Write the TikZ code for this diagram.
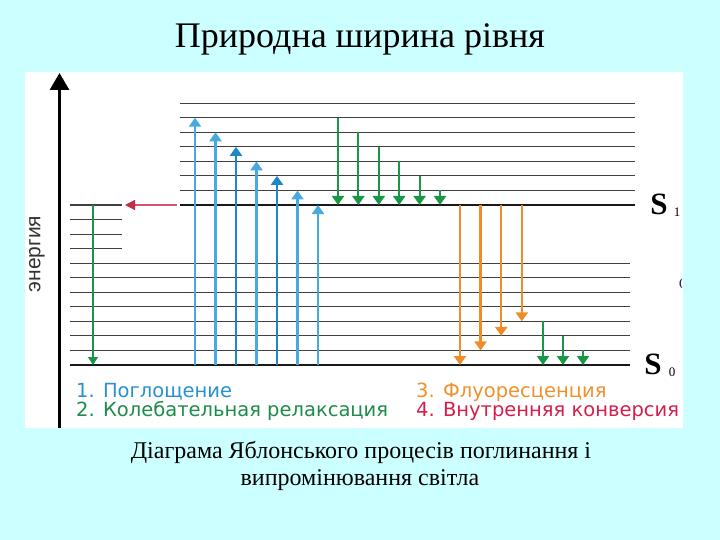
\documentclass[tikz,border=0pt]{standalone}
\usepackage{fontspec}
\setmainfont{Liberation Serif}
\newfontfamily\dejavu{DejaVu Sans}
\newfontfamily\arialf{Liberation Sans}
\usetikzlibrary{arrows.meta}
\definecolor{bgcyan}{RGB}{204,255,255}
\definecolor{blueA}{RGB}{70,170,225}
\definecolor{blueB}{RGB}{30,135,200}
\definecolor{greenA}{RGB}{25,150,70}
\definecolor{orangeA}{RGB}{240,140,40}
\definecolor{redA}{RGB}{195,45,70}
\definecolor{legblue}{RGB}{40,145,210}
\definecolor{leggreen}{RGB}{30,140,75}
\definecolor{legorange}{RGB}{240,145,45}
\definecolor{legred}{RGB}{215,30,75}
\tikzset{
  level/.style={draw=black!75, line width=1.1pt},
  mainlevel/.style={draw=black!90, line width=2.6pt},
  uparr/.style={line width=2.6pt, -{Triangle[width=12pt,length=9pt]}},
  relax/.style={draw=greenA, line width=2pt, -{Triangle[width=12pt,length=9pt]}},
  fluo/.style={draw=orangeA, line width=2.4pt, -{Triangle[width=12pt,length=9pt]}},
  legtext/.style={anchor=west, inner sep=0pt, font=\dejavu\fontsize{19.5}{19.5}\selectfont},
}
\begin{document}
\begin{tikzpicture}[x=1pt,y=-1pt]
\useasboundingbox (0,0) rectangle (720,540);
\fill[bgcyan] (0,0) rectangle (720,540);
\fill[white] (25,72) rectangle (683,428);

% title and caption
\node[anchor=base, font=\fontsize{36}{40}\selectfont] (title) at (360,48) {Природна ширина рівня};
\node[anchor=base, font=\fontsize{24}{28}\selectfont] (cap1) at (361,458)
  {Діаграма Яблонського процесів поглинання і};
\node[anchor=base, font=\fontsize{24}{28}\selectfont] (cap2) at (360,485)
  {випромінювання світла};

% energy axis
\coordinate (axb) at (59.5,428);
\coordinate (axt) at (59.5,73);
\draw[line width=3pt, -{Triangle[width=19pt,length=17pt]}] (axb) -- (axt);
\node[rotate=90, font=\arialf\fontsize{21}{21}\selectfont, text=black!80] (en) at (37,254) {энергия};

% vibrational levels of S0
\foreach \k in {1,...,7} {
  \draw[level] (70,{365-14.545*\k}) -- (630,{365-14.545*\k});
}
\foreach \k in {8,9,10,11} {
  \draw[level] (70,{365-14.545*\k}) -- (122,{365-14.545*\k});
}
% vibrational levels of S1
\foreach \k in {12,...,18} {
  \draw[level] (180,{365-14.545*\k}) -- (635,{365-14.545*\k});
}
\draw[mainlevel] (70,365) -- (630,365);
\draw[mainlevel] (180,205) -- (635,205);

% labels S1, S0
\node[inner sep=0pt] (s1) at (659,204) {\fontsize{31}{31}\selectfont$\mathbf{S}$};
\node[inner sep=0pt] (s1i) at (677,212) {\fontsize{13}{13}\selectfont 1};
\node[inner sep=0pt] (s0) at (653,364) {\fontsize{31}{31}\selectfont$\mathbf{S}$};
\node[inner sep=0pt] (s0i) at (672,372) {\fontsize{13}{13}\selectfont 0};
\node[inner sep=0pt, text={rgb,255:red,20;green,40;blue,90}] (paren) at (681,284) {\fontsize{11}{11}\selectfont\bfseries(};

% green arrow on the left and red internal conversion arrow
\coordinate (gls) at (93,205);
\coordinate (gle) at (93,365);
\draw[draw=greenA, line width=1.2pt, -{Triangle[width=10pt,length=8pt]}] (gls) -- (gle);
\coordinate (rs) at (177,205);
\coordinate (re) at (125,205);
\draw[draw=redA!80, line width=1.2pt, -{Triangle[width=10pt,length=10pt,fill=redA,color=redA]}] (rs) -- (re);

% absorption arrows
\foreach \i/\c in {0/blueA,1/blueA,2/blueB,3/blueA,4/blueB,5/blueA,6/blueA} {
  \coordinate (b\i s) at ({195+20.5*\i},365);
  \coordinate (b\i e) at ({195+20.5*\i},{365-14.545*(17-\i)});
  \draw[uparr, draw=\c, fill=\c] (b\i s) -- (b\i e);
}

% vibrational relaxation in S1
\foreach \i in {0,...,5} {
  \coordinate (g\i s) at ({338+20.4*\i},{365-14.545*(17-\i)});
  \coordinate (g\i e) at ({338+20.4*\i},205);
  \draw[relax, fill=greenA] (g\i s) -- (g\i e);
}

% fluorescence
\foreach \i in {0,...,3} {
  \coordinate (f\i s) at ({460+20.6*\i},205);
  \coordinate (f\i e) at ({460+20.6*\i},{365-14.545*\i});
  \draw[fluo, fill=orangeA] (f\i s) -- (f\i e);
}

% vibrational relaxation in S0
\foreach \i in {0,1,2} {
  \coordinate (h\i s) at ({543+20*\i},{365-14.545*(3-\i)});
  \coordinate (h\i e) at ({543+20*\i},365);
  \draw[relax, fill=greenA] (h\i s) -- (h\i e);
}

% legend
\node[legtext, text=legblue] (l1) at (76,392) {1. Поглощение};
\node[legtext, text=leggreen] (l2) at (76,411) {2. Колебательная релаксация};
\node[legtext, text=legorange] (l3) at (416,392) {3. Флуоресценция};
\node[legtext, text=legred] (l4) at (416,411) {4. Внутренняя конверсия};
\end{tikzpicture}
\end{document}
